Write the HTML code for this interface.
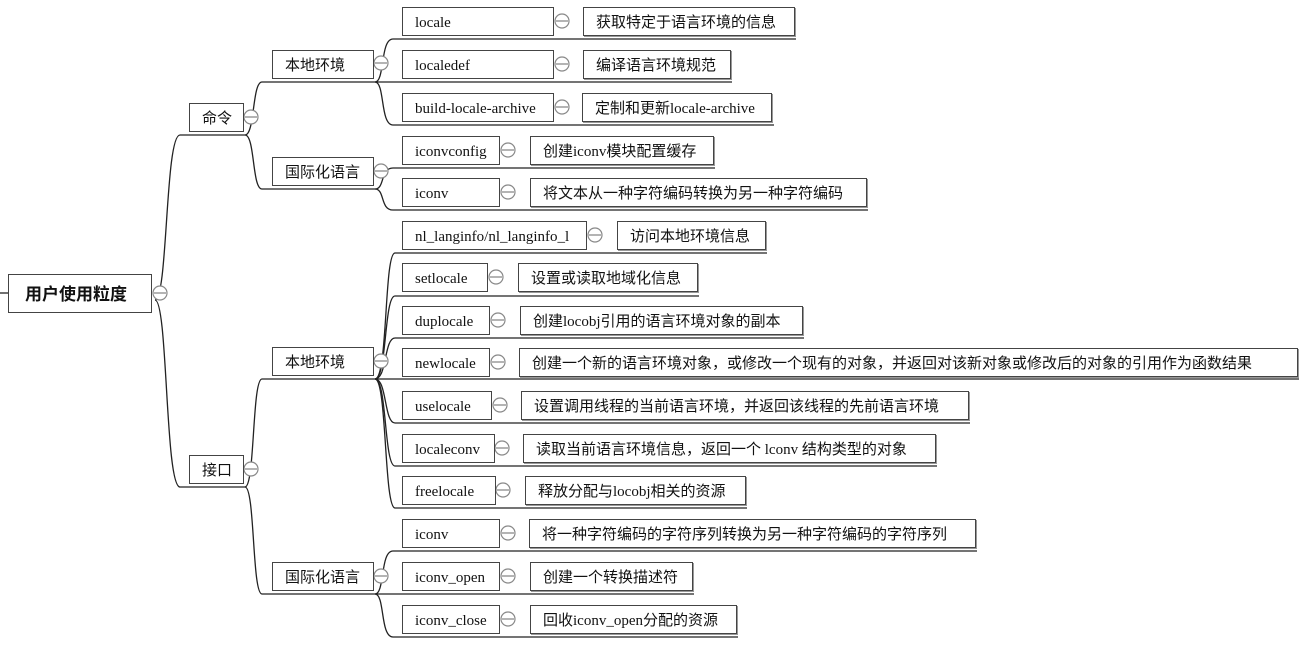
<!DOCTYPE html>
<html><head><meta charset="utf-8"><style>
body{margin:0;width:1307px;height:655px;background:#fff;position:relative;overflow:hidden;font-family:"Liberation Serif","Noto Sans CJK SC",serif;}
.b{position:absolute;box-sizing:border-box;border:1.5px solid #444;background:#fff;font-size:15px;line-height:24px;padding-top:3px;padding-left:12px;white-space:nowrap;color:#111}
.d{box-shadow:1px 1px 0 #999}
svg{position:absolute;left:0;top:0}
</style></head><body>
<svg width="1307" height="655" viewBox="0 0 1307 655" fill="none" stroke="#222" stroke-width="1.3">
<line x1="0" y1="293" x2="8" y2="293"/>
<path d="M155,300 C168,300 165,135 180,135 L245,135"/>
<path d="M155,300 C168,300 165,487 180,487 L245,487"/>
<path d="M245,135 C255,135 252,82 262,82 L375,82"/>
<path d="M245,135 C255,135 252,189 262,189 L375,189"/>
<path d="M245,487 C255,487 252,379 262,379 L375,379"/>
<path d="M245,487 C255,487 252,594 262,594 L375,594"/>
<path d="M375,82 C385,82 380,39 393,39 L796,39"/>
<path d="M375,82 L732,82"/>
<path d="M375,82 C385,82 380,125 393,125 L774,125"/>
<path d="M375,189 C385,189 380,168 393,168 L715,168"/>
<path d="M375,189 C385,189 380,210 393,210 L868,210"/>
<path d="M375,379 C388,379 384,253 395,253 L767,253"/>
<path d="M375,379 C387,379 384,296 395,296 L699,296"/>
<path d="M375,379 C387,379 384,338 395,338 L804,338"/>
<path d="M375,379 L1299,379"/>
<path d="M375,379 C387,379 384,423 395,423 L970,423"/>
<path d="M375,379 C387,379 384,466 395,466 L937,466"/>
<path d="M375,379 C387,379 384,508 395,508 L747,508"/>
<path d="M375,594 C385,594 380,551 393,551 L977,551"/>
<path d="M375,594 L694,594"/>
<path d="M375,594 C385,594 380,637 393,637 L738,637"/>
<g stroke="#888" fill="#fff" stroke-width="1.2">
<circle cx="160" cy="293" r="7"/><circle cx="251" cy="117" r="7"/><circle cx="251" cy="469" r="7"/>
<circle cx="381" cy="63" r="7"/><circle cx="381" cy="171" r="7"/><circle cx="381" cy="361" r="7"/><circle cx="381" cy="576" r="7"/>
<circle cx="562" cy="21" r="7"/><circle cx="562" cy="64" r="7"/><circle cx="562" cy="107" r="7"/>
<circle cx="508" cy="150" r="7"/><circle cx="508" cy="192" r="7"/><circle cx="595" cy="235" r="7"/>
<circle cx="496" cy="277" r="7"/><circle cx="498" cy="320" r="7"/><circle cx="498" cy="362" r="7"/>
<circle cx="500" cy="405" r="7"/><circle cx="502" cy="448" r="7"/><circle cx="503" cy="490" r="7"/>
<circle cx="508" cy="533" r="7"/><circle cx="508" cy="576" r="7"/><circle cx="508" cy="619" r="7"/>
</g>
<g stroke="#888" stroke-width="1.2">
<path d="M154,293h12M245,117h12M245,469h12M375,63h12M375,171h12M375,361h12M375,576h12M556,21h12M556,64h12M556,107h12M502,150h12M502,192h12M589,235h12M490,277h12M492,320h12M492,362h12M494,405h12M496,448h12M497,490h12M502,533h12M502,576h12M502,619h12"/>
</g>
</svg>
<div class="b" style="left:8px;top:274px;width:144px;height:39px;line-height:33px;font-size:17px;font-weight:bold;padding-left:16px">用户使用粒度</div>
<div class="b" style="left:189px;top:103px;width:55px;height:29px;">命令</div>
<div class="b" style="left:189px;top:455px;width:55px;height:29px;">接口</div>
<div class="b" style="left:272px;top:50px;width:102px;height:29px;">本地环境</div>
<div class="b" style="left:272px;top:157px;width:102px;height:29px;">国际化语言</div>
<div class="b" style="left:272px;top:347px;width:102px;height:29px;">本地环境</div>
<div class="b" style="left:272px;top:562px;width:102px;height:29px;">国际化语言</div>

<div class="b" style="left:402px;top:7px;width:152px;height:29px">locale</div>
<div class="b d" style="left:583px;top:7px;width:212px;height:29px">获取特定于语言环境的信息</div>
<div class="b" style="left:402px;top:50px;width:152px;height:29px">localedef</div>
<div class="b d" style="left:583px;top:50px;width:148px;height:29px">编译语言环境规范</div>
<div class="b" style="left:402px;top:93px;width:152px;height:29px">build-locale-archive</div>
<div class="b d" style="left:582px;top:93px;width:190px;height:29px">定制和更新locale-archive</div>
<div class="b" style="left:402px;top:136px;width:98px;height:29px">iconvconfig</div>
<div class="b d" style="left:530px;top:136px;width:184px;height:29px">创建iconv模块配置缓存</div>
<div class="b" style="left:402px;top:178px;width:98px;height:29px">iconv</div>
<div class="b d" style="left:530px;top:178px;width:337px;height:29px">将文本从一种字符编码转换为另一种字符编码</div>
<div class="b" style="left:402px;top:221px;width:185px;height:29px">nl_langinfo/nl_langinfo_l</div>
<div class="b d" style="left:617px;top:221px;width:149px;height:29px">访问本地环境信息</div>
<div class="b" style="left:402px;top:263px;width:86px;height:29px">setlocale</div>
<div class="b d" style="left:518px;top:263px;width:180px;height:29px">设置或读取地域化信息</div>
<div class="b" style="left:402px;top:306px;width:88px;height:29px">duplocale</div>
<div class="b d" style="left:520px;top:306px;width:283px;height:29px">创建locobj引用的语言环境对象的副本</div>
<div class="b" style="left:402px;top:348px;width:88px;height:29px">newlocale</div>
<div class="b d" style="left:519px;top:348px;width:779px;height:29px">创建一个新的语言环境对象，或修改一个现有的对象，并返回对该新对象或修改后的对象的引用作为函数结果</div>
<div class="b" style="left:402px;top:391px;width:90px;height:29px">uselocale</div>
<div class="b d" style="left:521px;top:391px;width:448px;height:29px">设置调用线程的当前语言环境，并返回该线程的先前语言环境</div>
<div class="b" style="left:402px;top:434px;width:93px;height:29px">localeconv</div>
<div class="b d" style="left:523px;top:434px;width:413px;height:29px">读取当前语言环境信息，返回一个 lconv 结构类型的对象</div>
<div class="b" style="left:402px;top:476px;width:94px;height:29px">freelocale</div>
<div class="b d" style="left:525px;top:476px;width:221px;height:29px">释放分配与locobj相关的资源</div>
<div class="b" style="left:402px;top:519px;width:98px;height:29px">iconv</div>
<div class="b d" style="left:529px;top:519px;width:447px;height:29px">将一种字符编码的字符序列转换为另一种字符编码的字符序列</div>
<div class="b" style="left:402px;top:562px;width:98px;height:29px">iconv_open</div>
<div class="b d" style="left:530px;top:562px;width:163px;height:29px">创建一个转换描述符</div>
<div class="b" style="left:402px;top:605px;width:98px;height:29px">iconv_close</div>
<div class="b d" style="left:530px;top:605px;width:207px;height:29px">回收iconv_open分配的资源</div>
</body></html>
